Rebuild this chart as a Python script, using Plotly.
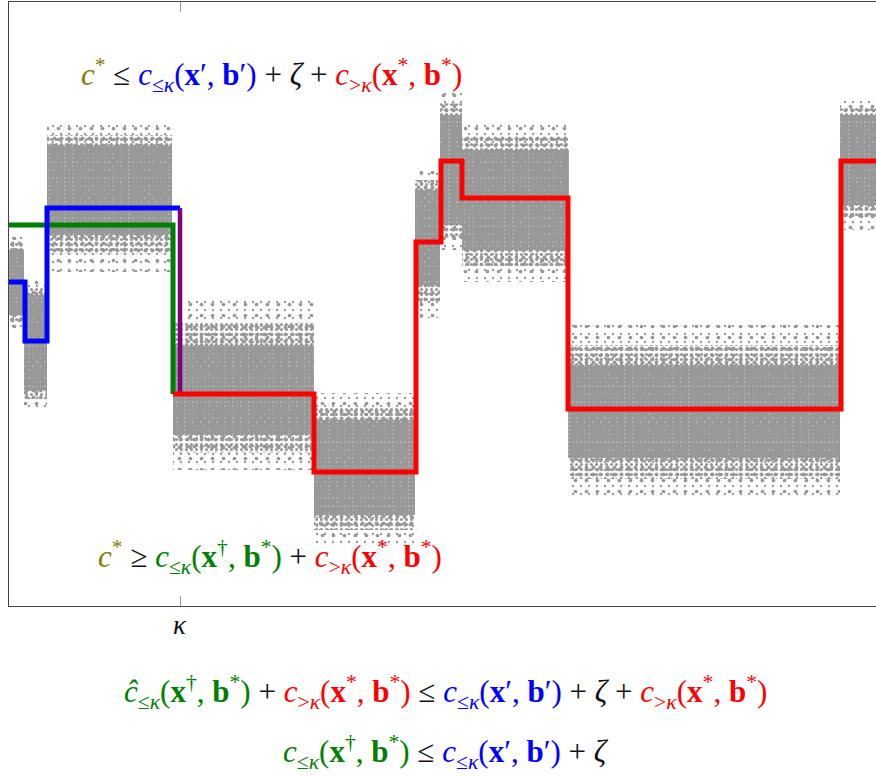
import plotly.graph_objects as go

# ---------------------------------------------------------------------------
# Data (x = time index, y = cost level)
# ---------------------------------------------------------------------------
KAPPA = 171

# Noisy observation clouds, one block per regime
seg_x0 = [0, 15, 38, 164, 305, 406, 431, 453, 559, 831]
seg_x1 = [15, 38, 163, 305, 406, 431, 453, 560, 831, 880]
core_lo = [291, 216, 371, 171, 91, 321, 381, 356, 148, 401]
core_hi = [356, 311, 461, 261, 186, 416, 491, 456, 241, 491]
fringe_lo = [276, 198, 334, 136, 61, 288, 356, 324, 106, 376]
fringe_hi = [374, 326, 481, 306, 213, 436, 514, 484, 281, 509]

# Step solutions
blue_x = [0, 16, 38, 171]
blue_y = [324, 265, 398]
purple_x = [171, 171]
purple_y = [398, 212]
green_x = [0, 164]
green_y = [381, 212]
red_x = [164, 305, 407, 432, 453, 559, 832, 880]
red_y = [212, 134, 364, 445, 408, 197, 445]

# ---------------------------------------------------------------------------
GRAY = "#989898"
OLIVE = "#808000"
BLUE = "#0000ff"
GREEN = "#008000"
RED = "#ff0000"
PURPLE = "#800080"
FONT = "Liberation Serif"

fig = go.Figure()


def band_trace(lo, hi, size, solidity):
    xs, ys = [], []
    for a, b, l, h in zip(seg_x0, seg_x1, lo, hi):
        xs += [a, b, b, a, a, None]
        ys += [l, l, h, h, l, None]
    return go.Scatter(
        x=xs, y=ys, mode="lines", fill="toself",
        line=dict(width=0, color=GRAY),
        fillcolor="rgba(0,0,0,0)",
        fillpattern=dict(shape=".", size=size, solidity=solidity,
                         fgcolor=GRAY, bgcolor="rgba(0,0,0,0)",
                         fillmode="replace"),
        hoverinfo="skip", showlegend=False,
    )


shoulder_lo = [(a + b) / 2 for a, b in zip(core_lo, fringe_lo)]
shoulder_hi = [(a + b) / 2 for a, b in zip(core_hi, fringe_hi)]

# sparse fringe, denser shoulder, near-solid core
fig.add_trace(band_trace(fringe_lo, fringe_hi, 11, 0.09))
fig.add_trace(band_trace(fringe_lo, fringe_hi, 8, 0.07))
fig.add_trace(band_trace(shoulder_lo, shoulder_hi, 7, 0.25))
fig.add_trace(band_trace(shoulder_lo, shoulder_hi, 5, 0.3))
fig.add_trace(band_trace(core_lo, core_hi, 4, 0.85))


def step_trace(xs, ys, color, width=5):
    return go.Scatter(
        x=xs, y=list(ys) + [ys[-1]], mode="lines",
        line=dict(color=color, width=width, shape="hv"),
        hoverinfo="skip", showlegend=False,
    )


fig.add_trace(go.Scatter(x=green_x + [green_x[-1]], y=[green_y[0], green_y[0], green_y[1]],
                         mode="lines", line=dict(color=GREEN, width=5),
                         hoverinfo="skip", showlegend=False))
fig.add_trace(go.Scatter(x=purple_x, y=purple_y, mode="lines",
                         line=dict(color=PURPLE, width=4.5),
                         hoverinfo="skip", showlegend=False))
fig.add_trace(step_trace(blue_x, blue_y, BLUE))
fig.add_trace(step_trace(red_x, red_y, RED))


def col(c, s):
    return f'<span style="color:{c}">{s}</span>'


C_STAR = col(OLIVE, "<i>c</i><sup>*</sup>")
C_LE_P = col(BLUE, "<i>c</i><sub>≤<i>κ</i></sub>(<b>x</b>′, <b>b</b>′)")
C_LE_D = col(GREEN, "<i>c</i><sub>≤<i>κ</i></sub>(<b>x</b><sup>†</sup>, <b>b</b><sup>*</sup>)")
CH_LE_D = col(GREEN, "<i>ĉ</i><sub>≤<i>κ</i></sub>(<b>x</b><sup>†</sup>, <b>b</b><sup>*</sup>)")
C_GT = col(RED, "<i>c</i><sub>&gt;<i>κ</i></sub>(<b>x</b><sup>*</sup>, <b>b</b><sup>*</sup>)")
ZETA = "<i>ζ</i>"

top_eq = f"{C_STAR} ≤ {C_LE_P} + {ZETA} + {C_GT}"
low_eq = f"{C_STAR} ≥ {C_LE_D} + {C_GT}"
eq1 = f"{CH_LE_D} + {C_GT} ≤ {C_LE_P} + {ZETA} + {C_GT}"
eq2 = f"{C_LE_D} ≤ {C_LE_P} + {ZETA}"

ann_font = dict(family=FONT, size=31, color="#111111")
fig.add_annotation(x=262, y=531, xref="x", yref="y", text=top_eq,
                   showarrow=False, font=ann_font, yanchor="middle")
fig.add_annotation(x=261, y=49, xref="x", yref="y", text=low_eq,
                   showarrow=False, font=ann_font, yanchor="middle")
fig.add_annotation(x=0.504, y=-0.1424, xref="paper", yref="paper", text=eq1,
                   showarrow=False, font=ann_font, yanchor="middle")
fig.add_annotation(x=0.504, y=-0.2417, xref="paper", yref="paper", text=eq2,
                   showarrow=False, font=ann_font, yanchor="middle")

# tick label for the split point
fig.add_annotation(x=KAPPA, y=-0.031, xref="x", yref="paper", text="<i>κ</i>",
                   showarrow=False, yanchor="middle",
                   font=dict(family=FONT, size=27, color="#111111"))

fig.update_xaxes(range=[0, 867], showgrid=False, zeroline=False,
                 showline=True, linecolor="#444444", linewidth=1, mirror="ticks",
                 ticks="inside", ticklen=10, tickcolor="#999999", tickwidth=1,
                 tickvals=[KAPPA], showticklabels=False)
fig.update_yaxes(range=[0, 604], showgrid=False, zeroline=False,
                 showline=True, linecolor="#444444", linewidth=1, mirror=False,
                 showticklabels=False, ticks="")

fig.update_layout(width=876, height=776,
                  margin=dict(l=9, r=0, t=2, b=170),
                  paper_bgcolor="white", plot_bgcolor="white")

fig.write_html("out.html")
